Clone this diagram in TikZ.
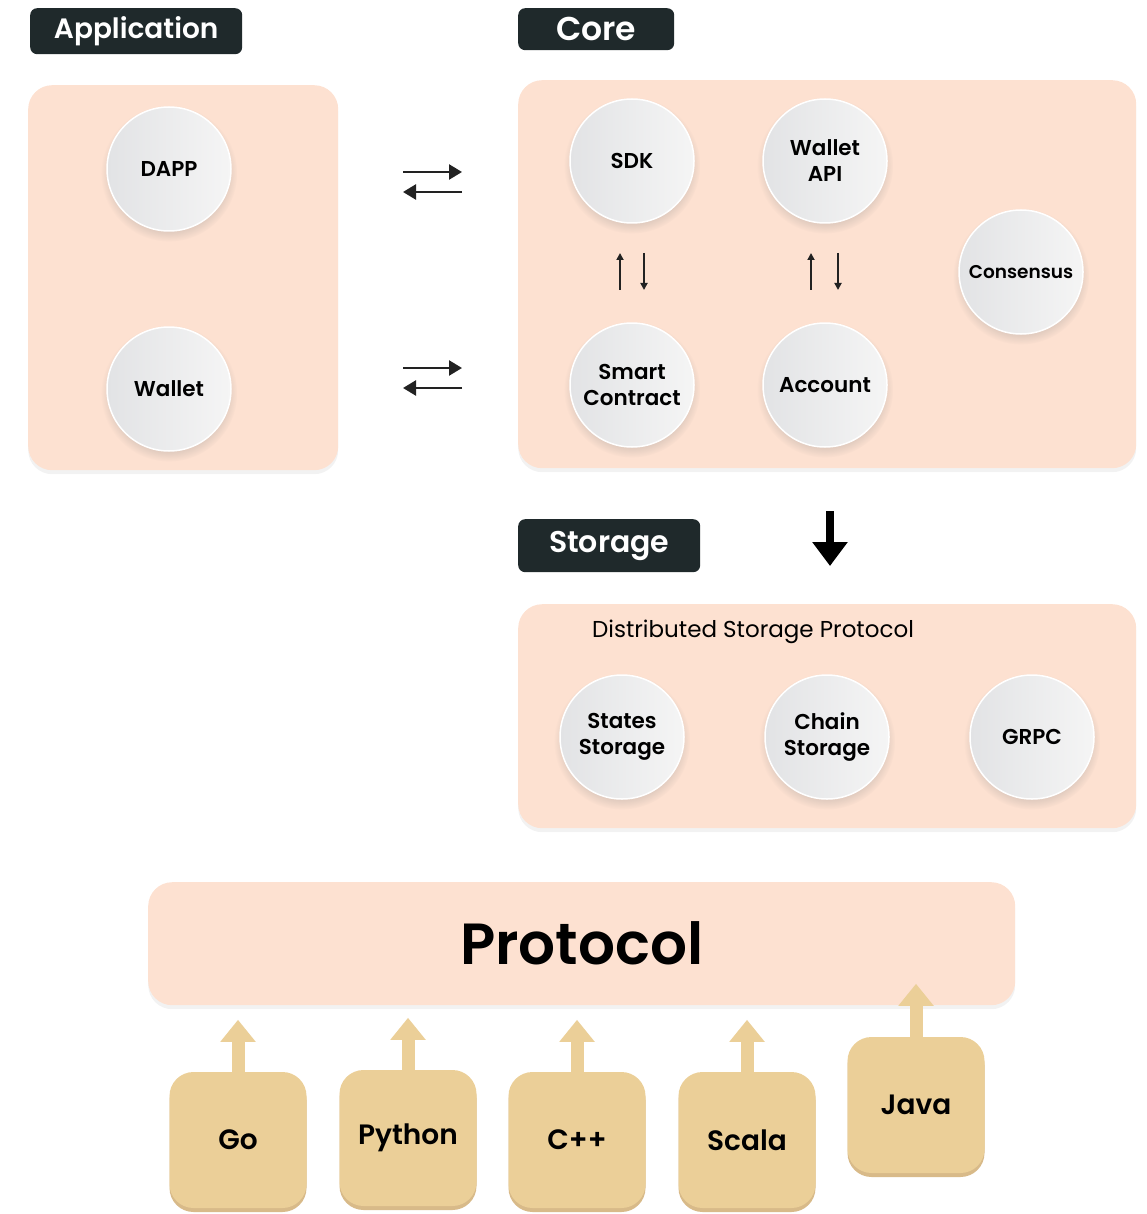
\documentclass[tikz,border=0pt]{standalone}
\usepackage{fontspec}
\setmainfont{Poppins}[BoldFont={Poppins SemiBold}]
\usetikzlibrary{arrows.meta,shadows}
\definecolor{peach}{HTML}{FDE1D1}
\definecolor{tagdark}{HTML}{1F292B}
\definecolor{tan}{HTML}{EBCF98}
\definecolor{tanedge}{HTML}{D8BA89}
\definecolor{ballleft}{HTML}{E2E3E5}
\definecolor{ballright}{HTML}{F5F5F5}
\definecolor{ink}{HTML}{222222}

\begin{document}
\begin{tikzpicture}[
        x=1pt, y=-1pt,
        tag/.style={fill=tagdark, text=white, rounded corners=7, inner sep=0pt,
          anchor=north west, font=\bfseries\fontsize{28}{30}\selectfont},
        panel/.style={fill=peach, rounded corners=24, anchor=north west,
          drop shadow={opacity=0.10, shadow xshift=0pt, shadow yshift=-4pt}},
        ball/.style={circle, minimum size=124, inner sep=0pt, align=center,
          left color=ballleft, right color=ballright, draw=white, line width=1.5,
          font=\bfseries\fontsize{21.5}{26}\selectfont,
          circular drop shadow={opacity=0.22, shadow xshift=0pt, shadow yshift=-4pt}},
        lang/.style={fill=tan, rounded corners=24, minimum width=137, minimum height=136,
          font=\bfseries\fontsize{28}{30}\selectfont,
          drop shadow={fill=tanedge, opacity=1, shadow xshift=0pt, shadow yshift=-4pt}},
        swap/.style={ink, line width=2.5, -{Triangle[length=13pt,width=15pt]}},
        link/.style={ink, line width=1.8, -{Triangle[length=7pt,width=7pt]}},
        push/.style={tan, line width=13, -{Triangle[length=22pt,width=34pt]}}
        ]
        \useasboundingbox (0,0) rectangle (1146,1214);

        % section tags
        \node[tag, minimum width=212, minimum height=46] (apptag) at (30,8) {Application};
        \node[tag, minimum width=156, minimum height=42,
              font=\bfseries\fontsize{33}{35}\selectfont] (coretag) at (518,8) {Core};
        \node[tag, minimum width=182, minimum height=53,
              font=\bfseries\fontsize{30}{32}\selectfont] (storetag) at (518,519) {Storage};

        % panels
        \node[panel, minimum width=310, minimum height=385] (appbox) at (28,85) {};
        \node[panel, minimum width=618, minimum height=388] (corebox) at (518,80) {};
        \node[panel, minimum width=618, minimum height=224] (storebox) at (518,604) {};
        \node[panel, minimum width=867, minimum height=123,
              font=\bfseries\fontsize{58}{60}\selectfont] (protobox) at (148,882) {Protocol};

        % application
        \node[ball] (dapp) at (169,169) {DAPP};
        \node[ball] (wallet) at (169,389) {Wallet};

        % core
        \node[ball] (sdk) at (632,161) {SDK};
        \node[ball] (wapi) at (825,161) {Wallet\\API};
        \node[ball] (smart) at (632,385) {Smart\\Contract};
        \node[ball] (account) at (825,385) {Account};
        \node[ball, font=\bfseries\fontsize{18.5}{22}\selectfont] (consensus) at (1021,272) {Consensus};

        % storage
        \node[font=\fontsize{23}{25}\selectfont] (dsp) at (753,632) {Distributed Storage Protocol};
        \node[ball] (states) at (622,737) {States\\Storage};
        \node[ball] (chain) at (827,737) {Chain\\Storage};
        \node[ball] (grpc) at (1032,737) {GRPC};

        % languages
        \node[lang] (go) at (238,1140) {Go};
        \node[lang] (python) at (408,1138) {Python};
        \node[lang] (cpp) at (577,1140) {C++};
        \node[lang] (scala) at (747,1140) {Scala};
        \node[lang] (java) at (916,1105) {Java};

        % arrow ends
        \coordinate (a1) at (403,172); \coordinate (a2) at (462,172);
        \coordinate (a3) at (462,192); \coordinate (a4) at (403,192);
        \coordinate (b1) at (403,368); \coordinate (b2) at (462,368);
        \coordinate (b3) at (462,388); \coordinate (b4) at (403,388);
        \coordinate (c1) at (620,290); \coordinate (c2) at (620,253);
        \coordinate (c3) at (644,253); \coordinate (c4) at (644,290);
        \coordinate (d1) at (811,290); \coordinate (d2) at (811,253);
        \coordinate (d3) at (838,253); \coordinate (d4) at (838,290);
        \coordinate (down1) at (830,511); \coordinate (down2) at (830,566);
        \foreach \l in {go,python,cpp,scala}
          \coordinate (\l tip) at ([yshift=52pt]\l.north);
        \coordinate (javatip) at ([yshift=53pt]java.north);

        \draw[swap] (a1) -- (a2);
        \draw[swap] (a3) -- (a4);
        \draw[swap] (b1) -- (b2);
        \draw[swap] (b3) -- (b4);
        \draw[link] (c1) -- (c2);
        \draw[link] (c3) -- (c4);
        \draw[link] (d1) -- (d2);
        \draw[link] (d3) -- (d4);
        \draw[black, line width=8, -{Triangle[length=24pt,width=34pt]}] (down1) -- (down2);

        \foreach \l in {go,python,cpp,scala,java}
          \draw[push] (\l.north) -- (\l tip);
\end{tikzpicture}
\end{document}
